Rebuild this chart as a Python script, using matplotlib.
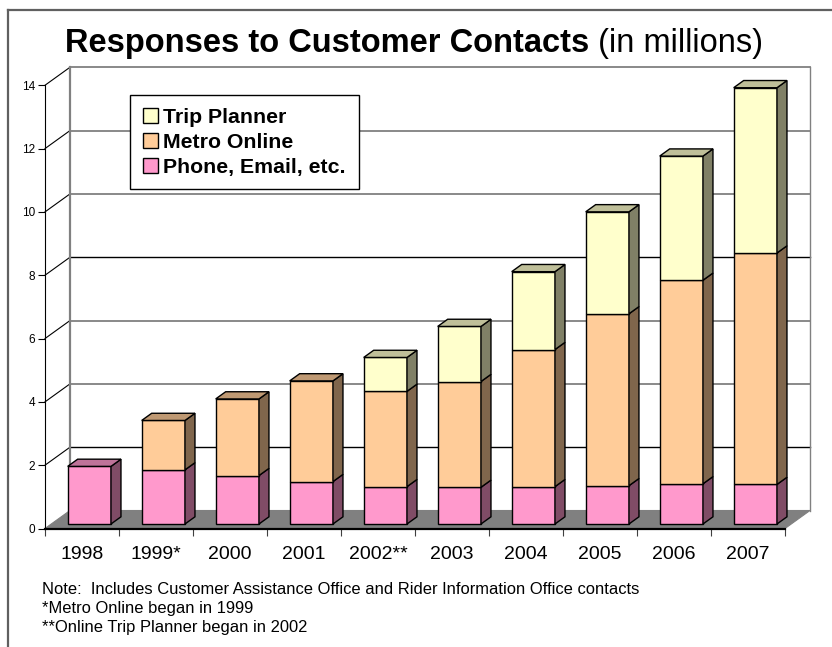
import matplotlib
matplotlib.use("Agg")
import matplotlib.pyplot as plt
from matplotlib.patches import Polygon, Patch
from matplotlib.lines import Line2D

plt.rcParams['font.family'] = ['Liberation Sans', 'DejaVu Sans']

# ---- data ----
years = ["1998", "1999*", "2000", "2001", "2002**", "2003", "2004", "2005", "2006", "2007"]
phone = [1.82, 1.71, 1.53, 1.34, 1.18, 1.16, 1.18, 1.21, 1.27, 1.25]
metro = [0.00, 1.56, 2.42, 3.18, 3.01, 3.34, 4.33, 5.43, 6.43, 7.31]
trip = [0.00, 0.00, 0.00, 0.00, 1.07, 1.74, 2.46, 3.22, 3.92, 5.22]
series_names = ["Phone, Email, etc.", "Metro Online", "Trip Planner"]
yticks = [0, 2, 4, 6, 8, 10, 12, 14]
notes = ["Note:  Includes Customer Assistance Office and Rider Information Office contacts",
         "*Metro Online began in 1999",
         "**Online Trip Planner began in 2002"]

# colours: front, side, top
cols = {
    "Phone, Email, etc.": ("#FF99CC", "#804C66", "#BF7399"),
    "Metro Online": ("#FFCC99", "#80664C", "#BF9973"),
    "Trip Planner": ("#FFFFCC", "#808066", "#BFBF99"),
}

W, H = 832, 647
fig = plt.figure(figsize=(W / 100, H / 100), dpi=100)
fig.patch.set_facecolor("white")

# 3-D geometry (in data units)
PX_X = 74.0          # pixels per category
PX_Y = 31.66         # pixels per unit
DX = 25.0 / PX_X     # depth offset in x
DY = 18.0 / PX_Y     # depth offset in y
YMAX = 14
N = len(years)
x0_pix, y0_pix = 45, 528.5

ax = fig.add_axes([x0_pix / W, (H - y0_pix) / H,
                   PX_X * (N + DX) / W, PX_Y * (YMAX + DY) / H])
ax.set_xlim(0, N + DX)
ax.set_ylim(0, YMAX + DY)
ax.patch.set_alpha(0)

# floor
ax.add_patch(Polygon([(0, 0), (N, 0), (N + DX, DY), (DX, DY)], closed=True,
                     facecolor="#808080", edgecolor="#808080", lw=0.8, zorder=1, clip_on=False))

# back wall gridlines and side wall diagonals
grid_col = {2: "black", 8: "black"}
for v in yticks[1:]:
    c = grid_col.get(v, "#808080")
    lw = 1.0 if c == "black" else 1.3
    ax.plot([DX, N + DX], [v + DY, v + DY], color=c, lw=lw, zorder=2, clip_on=False)
    ax.plot([0, DX], [v, v + DY], color="black", lw=0.8, zorder=2, clip_on=False)
# back wall edges
ax.plot([DX, DX], [DY, YMAX + DY], color="#808080", lw=1.6, zorder=2, clip_on=False)
ax.plot([N + DX, N + DX], [DY, YMAX + DY], color="#808080", lw=1.0, zorder=2, clip_on=False)

# bars
GAP = 0.222
BW = 0.585
D0, D1 = 0.25, 0.65
dd = D1 - D0
stack = [("Phone, Email, etc.", phone), ("Metro Online", metro), ("Trip Planner", trip)]
for i in range(N):
    bottom = 0.0
    segs = [(name, vals[i]) for name, vals in stack if vals[i] > 0]
    for k, (name, val) in enumerate(segs):
        front, side, top = cols[name]
        xl = i + GAP + D0 * DX
        xr = xl + BW
        yb = bottom + D0 * DY
        yt = bottom + val + D0 * DY
        ax.bar(xl, val, width=BW, bottom=yb, align="edge", color=front,
               edgecolor="black", lw=1.0, zorder=5, clip_on=False)
        ax.add_patch(Polygon([(xr, yb), (xr + dd * DX, yb + dd * DY),
                              (xr + dd * DX, yt + dd * DY), (xr, yt)], closed=True,
                             facecolor=side, edgecolor="black", lw=1.0, zorder=5, clip_on=False))
        if k == len(segs) - 1:
            ax.add_patch(Polygon([(xl, yt), (xr, yt), (xr + dd * DX, yt + dd * DY),
                                  (xl + dd * DX, yt + dd * DY)], closed=True,
                                 facecolor=top, edgecolor="black", lw=1.0, zorder=5, clip_on=False))
        bottom += val

# axes spines and ticks
for s in ["top", "right"]:
    ax.spines[s].set_visible(False)
ax.spines["left"].set_bounds(0, YMAX)
ax.spines["left"].set_linewidth(0.8)
ax.spines["bottom"].set_bounds(0, N)
ax.spines["bottom"].set_linewidth(1.6)
ax.spines["left"].set_zorder(6)
ax.spines["bottom"].set_zorder(6)

ax.set_yticks(yticks)
ax.set_yticklabels([str(v) for v in yticks], fontsize=8.5)
ax.tick_params(axis="y", direction="out", length=4.8, width=0.8, pad=2.2, colors="black")

ax.set_xticks(range(N + 1))
ax.set_xticklabels([])
ax.tick_params(axis="x", which="major", direction="out", length=5, width=0.8, color="#404040")
ax.set_xticks([i + 0.5 for i in range(N)], minor=True)
ax.set_xticklabels(years, minor=True, fontsize=14)
ax.tick_params(axis="x", which="minor", length=0, pad=12.5)

# legend
handles = [Patch(facecolor=cols[n][0], edgecolor="black", lw=1.0) for n in reversed(series_names)]
leg = ax.legend(handles, list(reversed(series_names)), loc="upper left",
                bbox_to_anchor=(130 / W, 1 - 95 / H), bbox_transform=fig.transFigure,
                borderaxespad=0, prop={"weight": "bold", "size": 15.3},
                handlelength=0.72, handleheight=0.72, handletextpad=0.25,
                borderpad=0.6, labelspacing=0.28, fancybox=False, framealpha=1,
                edgecolor="black")
leg.get_frame().set_linewidth(1.0)
leg.set_zorder(10)

# outer frame
fig.add_artist(Line2D([8.3 / W, 8.3 / W], [0, 1 - 10 / H], color="#606060", lw=1.6))
fig.add_artist(Line2D([8.3 / W, 1], [1 - 10 / H, 1 - 10 / H], color="#606060", lw=1.6))

# title (bold + regular part)
t1 = fig.text(0, 1 - 52 / H, "Responses to Customer Contacts", fontsize=23.5,
              fontweight="bold", ha="left", va="baseline")
t2 = fig.text(0, 1 - 52 / H, " (in millions)", fontsize=23.5, ha="left", va="baseline")
fig.canvas.draw()
r = fig.canvas.get_renderer()
w1 = t1.get_window_extent(r).width
w2 = t2.get_window_extent(r).width
start = 414 - (w1 + w2) / 2
t1.set_x(start / W)
t2.set_x((start + w1) / W)

# notes
for j, line in enumerate(notes):
    fig.text(41.7 / W, 1 - (594 + 18.8 * j) / H, line, fontsize=11.9, ha="left", va="baseline")

fig.savefig("out.png", dpi=100, facecolor="white")
